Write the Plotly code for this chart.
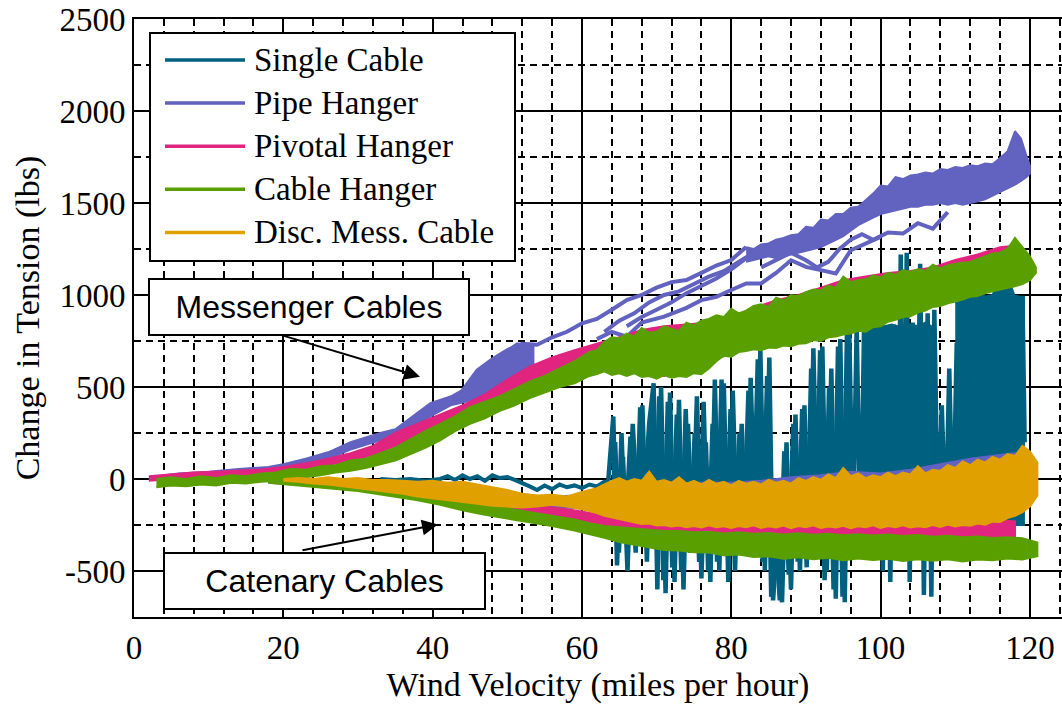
import plotly.graph_objects as go

names = ['Single Cable', 'Pipe Hanger', 'Pivotal Hanger', 'Cable Hanger', 'Disc. Mess. Cable']
colors = ['#00607f', '#6262c0', '#e0247f', '#5a9f00', '#e0a000']

x_ticks = [0, 20, 40, 60, 80, 100, 120]
y_ticks = [-500, 0, 500, 1000, 1500, 2000, 2500]
y_ticklabels = ['-500', '0', '500', '1000', '1500', '2000', '2500']

# Single Cable
single_low_x = [33, 35, 37, 39, 41, 42, 43, 44, 45, 46, 47, 48, 49, 50, 51, 52, 53, 54, 55, 56,
                57, 58, 59, 60, 61, 62, 63, 63.5]
single_low_y = [0, -5, 0, -10, 0, 15, -5, 20, 0, 15, -10, 20, 5, 10, -5, -20, -40, -60, -35, -55,
                -30, -45, -35, -50, -30, -40, -15, -20]
single_x = [63.5, 64.2, 64.7, 65.3, 65.8, 66.5, 67.2, 67.8, 68.4, 69.0, 69.6, 70.1, 70.6, 71.2,
            71.8, 72.4, 73.0, 73.6, 74.2, 74.8, 75.4, 76.0, 76.6, 77.2, 77.8, 78.4, 79.0, 79.6,
            80.2, 80.8, 81.4, 82.0, 82.6, 83.2, 83.9, 84.5, 85.1, 85.6, 86.2, 86.8, 87.4, 88.0,
            88.6, 89.2, 89.8, 90.4, 91.0, 91.6, 92.2, 92.8, 93.4, 94.0, 94.6, 95.2, 95.8, 96.3,
            96.8, 97.3, 97.8, 98.3, 98.8, 99.3, 99.8, 100.3, 100.8, 101.3, 101.8, 102.3, 102.7,
            103.1, 103.5, 103.9, 104.3, 104.8, 105.3, 105.8, 106.3, 106.8, 107.2, 107.7, 108.2,
            108.7, 109.2, 109.7, 110.2, 110.6, 111.0, 111.4, 111.8, 112.2, 112.6, 113.0, 113.4,
            113.8, 114.2, 114.6, 115.0, 115.4, 115.8, 116.2, 116.6, 117.0, 117.4, 117.8, 118.2,
            118.6, 119.0, 119.3]
single_y = [-20, 340, -470, 250, -300, 230, -400, 390, -100, 300, 520, -600, 500, -620,
            470, -560, 430, -600, 300, -350, 450, -540, 200, -560, 540, -500, 520, -560,
            480, -350, 300, -400, 550, -300, 700, -500, 660, -660, -300, -670, 200, -600,
            350, -500, 400, -430, 710, -350, 720, -500, 600, -650, 760, -670, 820, -300,
            830, -400, 840, -300, 850, -350, 840, -500, 830, -560, 840, -300, 1220,
            -400, 1230, -560, 850, -300, 1170, -630, 900, -640, 920, -300, 400,
            -300, 600, -300, 740, -250, 990, -300, 990, -250, 1060, -300, 1060,
            -250, 990, -300, 990, -250, 1100, -300, 1100, -250, 1000, -300, 1000,
            -250, 990, 200]
single2_x = [64.0, 64.45, 64.95, 65.5, 66.1, 66.8, 67.5, 68.1, 68.7, 69.3, 69.85, 70.35, 70.9, 71.5,
             72.1, 72.7, 73.3, 73.9, 74.5, 75.1, 75.7, 76.3, 76.9, 77.5, 78.1, 78.7, 79.3, 79.9,
             80.5, 81.1, 81.7, 82.3, 82.9, 83.55, 84.2, 84.8, 85.35, 85.9, 86.5, 87.1, 87.7, 88.3,
             88.9, 89.5, 90.1, 90.7, 91.3, 91.9, 92.5, 93.1, 93.7, 94.3, 94.9, 95.5, 96.0]
single2_y = [-300, 200, -400, 120, -500, 300, -200, 400, -450, 380, -300, 450, -550, 420,
             -480, 350, -500, 380, -400, 250, -450, 420, -500, 300, -450, 540, -420, 380,
             -500, 250, -300, 480, -380, 650, -450, 560, -640, -250, -660, 150, -520, 300,
             -450, 380, -480, 600, -400, 700, -550, 500, -600, 720, -640, 800, -300]
single_fill1_x = [97.5, 98.5, 99.5, 100.5, 101.5, 102.2, 104.0, 105.0, 106.0, 107.2]
single_fill1_top = [820, 840, 850, 830, 840, 830, 840, 830, 850, 820]
single_fill1_bot = [-250, -250, -260, -250, -260, -250, -250, -260, -250, -250]
single_fill2_x = [110.0, 111.0, 112.0, 113.0, 114.0, 115.0, 116.0, 117.0, 118.0, 119.2]
single_fill2_top = [960, 990, 990, 1050, 990, 1000, 1090, 1100, 990, 990]
single_fill2_bot = [-250, -260, -250, -260, -250, -260, -250, -260, -250, -250]

# Pipe Hanger
pipe_band1_x = [2, 6, 10, 14, 18, 20, 23, 26, 29, 31, 33, 35, 37, 39.7, 42.4, 44, 46, 48, 50, 51.3, 53.5]
pipe_band1_top = [10, 30, 40, 55, 65, 80, 110, 145, 200, 225, 250, 270, 330, 412, 448, 484, 593, 650, 700, 737, 719]
pipe_band1_bot = [-5, 10, 20, 30, 45, 55, 75, 110, 160, 185, 210, 235, 280, 340, 400, 415, 440, 480, 510, 540, 620]
pipe_band2_x = [82, 83, 84, 85, 86, 87, 88, 89, 90, 91, 92, 93, 94, 95, 96, 97, 98, 99, 100, 101, 102,
                103, 104, 105, 106, 107, 108, 109, 110, 111, 112, 113, 114, 115, 116, 117, 118, 118.8,
                119.5, 120]
pipe_band2_top = [1260, 1250, 1275, 1280, 1300, 1310, 1325, 1330, 1370, 1365, 1410, 1405, 1440, 1440,
                  1475, 1480, 1515, 1551, 1595, 1590, 1640, 1630, 1650, 1655, 1665, 1660, 1685, 1680,
                  1695, 1690, 1705, 1700, 1715, 1710, 1745, 1780, 1890, 1850, 1760, 1700]
pipe_band2_bot = [1180, 1190, 1200, 1210, 1200, 1210, 1220, 1230, 1240, 1250, 1260, 1280, 1300, 1320,
                  1350, 1380, 1400, 1420, 1440, 1450, 1460, 1470, 1480, 1480, 1490, 1490, 1500, 1490,
                  1500, 1490, 1500, 1510, 1520, 1540, 1560, 1580, 1600, 1620, 1640, 1660]
pipe_run1_x = [44, 46, 48, 50, 52, 54, 56, 58, 60, 62, 64, 66, 68, 70, 72, 74, 76, 78, 80, 82]
pipe_run1_y = [480, 590, 650, 700, 735, 730, 770, 800, 846, 870, 920, 972, 1000, 1040, 1070, 1081, 1120, 1160, 1190, 1261]
pipe_run2_x = [62, 64, 66, 68, 71, 74, 76, 78, 80, 82, 84, 86, 88, 90, 92, 94, 96, 98, 100]
pipe_run2_y = [760, 800, 773, 850, 882, 930, 972, 990, 1027, 1063, 1063, 1120, 1189, 1153, 1135, 1117, 1243, 1280, 1316]
pipe_run3_x = [63, 65, 67, 69, 71, 73, 75, 77, 79, 81, 83, 85]
pipe_run3_y = [800, 860, 900, 960, 1000, 1020, 1060, 1100, 1130, 1180, 1230, 1270]
pipe_run4_x = [84, 86, 88, 90, 91.5, 93, 94.5, 96, 97.5, 99, 101, 103, 105, 107, 109]
pipe_run4_y = [1150, 1190, 1230, 1189, 1150, 1180, 1250, 1300, 1330, 1300, 1340, 1334, 1390, 1361, 1450]
pipe_run5_x = [66, 68, 70, 72, 74, 76, 78, 80, 82]
pipe_run5_y = [830, 880, 920, 960, 1010, 1050, 1090, 1140, 1200]
pipe_low_x = [18, 25, 30, 35, 40, 45, 50, 55, 60, 65, 70, 75, 80, 84, 88, 92, 96, 100, 104, 108, 112, 116, 118, 119]
pipe_low_top = [0, -10, -20, -35, -45, -60, -80, -95, -90, -60, -40, -20, -20, -10, 10, 20, 40, 30, 50, 80, 110, 130, 140, 120]
pipe_low_bot = [-20, -40, -55, -70, -90, -110, -130, -150, -160, -170, -180, -190, -200, -200, -200, -200, -200,
                -200, -200, -200, -200, -200, -190, -180]

# Pivotal Hanger
pivot_up_x = [2, 5, 8, 11, 14, 17, 20, 23, 26, 29, 32, 35, 38, 41, 44, 47, 50, 53, 56, 59, 62, 65, 68,
              71, 74, 77, 80, 83, 86, 89, 92, 95, 98, 101, 104, 107, 110, 113, 116, 118.5]
pivot_up_top = [15, 25, 35, 40, 45, 52, 65, 85, 110, 140, 180, 250, 300, 350, 400, 460, 540, 610, 660, 700,
                735, 770, 810, 830, 840, 850, 880, 930, 970, 1000, 1040, 1080, 1100, 1120, 1130, 1150,
                1190, 1220, 1260, 1270]
pivot_up_bot = [-10, 0, 5, 10, 15, 20, 30, 50, 75, 100, 130, 180, 230, 280, 330, 390, 440, 490, 530, 570,
                600, 600, 580, 560, 600, 640, 680, 720, 740, 760, 790, 810, 830, 860, 900, 950, 1000,
                1050, 1100, 1150]
pivot_low_x = [18, 22, 26, 30, 34, 38, 42, 46, 50, 54, 58, 62, 66, 70, 75, 80, 85, 90, 95, 100, 105, 110, 115, 118]
pivot_low_top = [5, -5, -15, -25, -35, -50, -65, -90, -120, -145, -165, -190, -200, -210, -220, -220, -230,
                 -230, -220, -230, -220, -230, -220, -230]
pivot_low_bot = [-15, -25, -35, -50, -65, -85, -110, -135, -165, -185, -210, -240, -270, -300, -320, -330,
                 -335, -340, -340, -345, -350, -340, -330, -320]

# Cable Hanger
cable_up_x = [3, 5, 7, 9, 11, 13, 15, 17, 19, 21, 23, 25, 27, 29, 31, 33, 35, 37, 39, 41, 43, 45, 47, 49,
              51, 53, 55, 57, 59, 61,
              62, 63, 64, 65, 66, 67, 68, 69, 70, 71, 72, 73, 74, 75, 76, 77, 78, 79, 80, 81, 82, 83,
              84, 85, 86, 87, 88, 89, 90, 91, 92, 93, 94, 95, 96, 97, 98, 99, 100, 101, 102, 103, 104,
              105, 106, 107, 108, 109, 110, 111, 112, 113, 114, 115, 116, 117, 118, 119, 120, 120.8]
cable_up_top = [0, 10, 0, 15, 5, 20, 15, 30, 35, 55, 50, 70, 75, 100, 110, 140, 170, 215, 260, 300, 340,
                390, 420, 450, 490, 530, 560, 600, 640, 690,
                700, 745, 770, 765, 790, 775, 820, 795, 800, 830, 815, 805, 850, 835, 860, 870, 890,
                880, 925, 900, 915, 940, 950, 935, 985, 970, 1000, 995, 1015, 1030, 1025, 1050, 1040,
                1100, 1070, 1080, 1085, 1105, 1095, 1120, 1110, 1135, 1125, 1140, 1130, 1165, 1145,
                1160, 1170, 1175, 1180, 1195, 1210, 1225, 1230, 1250, 1310, 1260, 1210, 1150]
cable_up_bot = [-45, -35, -40, -30, -35, -20, -25, -15, -10, -5, 10, 20, 35, 45, 60, 80, 100, 135, 170,
                210, 260, 300, 330, 370, 400, 440, 470, 500, 520, 560,
                570, 585, 565, 575, 560, 575, 555, 560, 545, 565, 550, 560, 555, 575, 570, 600, 640,
                670, 665, 690, 695, 705, 700, 715, 712, 725, 722, 735, 738, 755, 750, 770, 775, 785,
                790, 805, 800, 825, 830, 855, 865, 880, 885, 905, 915, 935, 940, 955, 965, 975, 990,
                995, 1010, 1020, 1028, 1040, 1048, 1060, 1080, 1120]
cable_low_x = [18, 22, 26, 30, 34, 38, 41, 44, 47, 50, 53, 56, 59,
               61, 63, 65, 67, 69, 71, 73, 75, 77, 79, 81, 83, 85, 87, 89, 91, 93, 95, 97, 99, 101,
               103, 105, 107, 109, 111, 113, 115, 117, 119, 121]
cable_low_top = [5, -10, -25, -40, -55, -75, -95, -115, -140, -160, -180, -200, -220,
                 -240, -255, -262, -270, -278, -283, -282, -290, -287, -296, -290, -298, -293, -302,
                 -295, -303, -298, -306, -300, -307, -302, -310, -305, -314, -308, -316, -312, -320,
                 -316, -322, -345]
cable_low_bot = [-20, -35, -50, -65, -90, -115, -140, -170, -195, -215, -235, -255, -280,
                 -300, -320, -342, -358, -372, -386, -388, -398, -400, -414, -410, -424, -420, -434,
                 -425, -436, -428, -442, -432, -440, -434, -446, -436, -444, -436, -448, -438, -442,
                 -432, -438, -420]

# Disc. Mess. Cable
disc_x = [20, 22, 24, 26, 28, 30, 32, 34, 36, 38, 40, 42, 44, 46, 48, 50, 52, 54, 56, 58, 60, 62,
          63, 64, 65, 66, 67, 68, 69, 70, 71, 72, 73, 74, 75, 76, 77, 78, 79, 80, 81, 82, 83, 84,
          85, 86, 87, 88, 89, 90, 91, 92, 93, 94, 95, 96, 97, 98, 99, 100, 101, 102, 103, 104,
          105, 106, 107, 108, 109, 110, 111, 112, 113, 114, 115, 116, 117, 118, 119, 120, 121]
disc_top = [0, 5, 0, 10, 0, 5, -5, -5, -10, -15, -10, -20, -15, -30, -45, -60, -80, -90, -85, -95,
            -70, -50,
            -30, -10, 5, -15, 0, -10, 40, -15, -5, -20, 10, -25, -10, -30, -5, -25, -15, -35, -10,
            -25, -15, -30, -5, -20, -10, -25, 5, -10, 10, -5, 25, 5, 60, 15, 30, 5, 20, 10, 35, 15,
            35, 25, 70, 30, 50, 45, 75, 60, 95, 75, 105, 90, 120, 105, 135, 125, 180, 150, 90]
disc_bot = [-10, -15, -25, -30, -40, -50, -60, -70, -80, -95, -105, -115, -125, -135, -145, -150,
            -155, -150, -140, -150, -165, -185,
            -200, -210, -218, -228, -236, -244, -242, -252, -250, -258, -253, -262, -256, -263,
            -252, -262, -257, -266, -256, -262, -252, -266, -257, -263, -253, -267, -256, -262,
            -252, -266, -258, -263, -254, -267, -257, -262, -252, -266, -256, -262, -252, -264,
            -257, -262, -250, -260, -247, -258, -250, -254, -242, -248, -232, -234, -212, -200,
            -180, -150, -90]


def area(xs, top, bot, color):
    return go.Scatter(x=xs + xs[::-1], y=top + bot[::-1], mode='lines', fill='toself',
                      fillcolor=color, line=dict(color=color, width=2),
                      hoverinfo='skip', showlegend=False)


def run(xs, ys, color, width=4):
    return go.Scatter(x=xs, y=ys, mode='lines', line=dict(color=color, width=width),
                      hoverinfo='skip', showlegend=False)


teal, purple, pink, green, orange = colors

data = [
    run(single_low_x, single_low_y, teal, 4),
    run(single_x, single_y, teal, 4.5),
    run(single2_x, single2_y, teal, 4.5),
    area(single_fill1_x, single_fill1_top, single_fill1_bot, teal),
    area(single_fill2_x, single_fill2_top, single_fill2_bot, teal),
    area(pipe_band1_x, pipe_band1_top, pipe_band1_bot, purple),
    area(pipe_band2_x, pipe_band2_top, pipe_band2_bot, purple),
    run(pipe_run1_x, pipe_run1_y, purple),
    run(pipe_run2_x, pipe_run2_y, purple),
    run(pipe_run3_x, pipe_run3_y, purple),
    run(pipe_run4_x, pipe_run4_y, purple),
    run(pipe_run5_x, pipe_run5_y, purple),
    area(pipe_low_x, pipe_low_top, pipe_low_bot, purple),
    area(pivot_up_x, pivot_up_top, pivot_up_bot, pink),
    area(pivot_low_x, pivot_low_top, pivot_low_bot, pink),
    area(cable_up_x, cable_up_top, cable_up_bot, green),
    area(cable_low_x, cable_low_top, cable_low_bot, green),
    area(disc_x, disc_top, disc_bot, orange),
]


# plot area in pixels: left 134, right 1062, top 19, bottom 617
def xp(p):
    return (p - 134) / 928.0


def yp(p):
    return (617 - p) / 598.0


serif = 'Liberation Serif, Times New Roman, serif'

shapes = [dict(type='rect', xref='paper', yref='paper', x0=xp(150), x1=xp(515), y0=yp(261), y1=yp(33),
               line=dict(color='black', width=2), fillcolor='white', layer='above')]
annotations = []
for i, (name, color) in enumerate(zip(names, colors)):
    row = 60 + 43.1 * i
    shapes.append(dict(type='line', xref='paper', yref='paper', x0=xp(165), x1=xp(245),
                       y0=yp(row), y1=yp(row), line=dict(color=color, width=3.5), layer='above'))
    annotations.append(dict(xref='paper', yref='paper', x=xp(252), y=yp(row), text=name,
                            showarrow=False, xanchor='left', yanchor='middle',
                            font=dict(family=serif, size=33, color='black')))

box_font = dict(family='Liberation Sans, Arial', size=32, color='black')
annotations += [
    dict(xref='paper', yref='paper', x=xp(309), y=yp(307), text='Messenger Cables', showarrow=False,
         width=318, height=54, borderpad=0, bordercolor='black', borderwidth=2, bgcolor='white',
         font=box_font, xanchor='center', yanchor='middle'),
    dict(xref='paper', yref='paper', x=xp(324), y=yp(580.5), text='Catenary Cables', showarrow=False,
         width=319, height=54, borderpad=0, bordercolor='black', borderwidth=2, bgcolor='white',
         font=box_font, xanchor='center', yanchor='middle'),
    dict(xref='paper', yref='paper', x=xp(420), y=yp(376.7), text='', showarrow=True,
         ax=-140, ay=-42, arrowhead=2, arrowsize=1.6, arrowwidth=2, arrowcolor='black', standoff=0),
    dict(xref='paper', yref='paper', x=xp(438), y=yp(524.5), text='', showarrow=True,
         ax=-137, ay=26, arrowhead=2, arrowsize=1.6, arrowwidth=2, arrowcolor='black', standoff=0),
]

layout = go.Layout(
    width=1062,
    height=705,
    margin=dict(l=134, r=0, t=19, b=88, pad=0),
    paper_bgcolor='white',
    plot_bgcolor='white',
    font=dict(family=serif, size=33, color='black'),
    showlegend=False,
    xaxis=dict(
        range=[0, 124.3], tick0=0, dtick=20, ticks='', zeroline=False,
        showgrid=True, gridcolor='black', gridwidth=2,
        minor=dict(tickmode='linear', tick0=0, dtick=4, showgrid=True, gridcolor='black',
                   gridwidth=1.5, griddash='7px,5px'),
        showline=True, linecolor='black', linewidth=2, mirror=True,
        title=dict(text='Wind Velocity (miles per hour)', standoff=6, font=dict(size=34)),
        automargin=False,
    ),
    yaxis=dict(
        range=[-750, 2500], tickmode='array', tickvals=y_ticks, ticktext=y_ticklabels,
        ticks='', zeroline=False,
        showgrid=True, gridcolor='black', gridwidth=2,
        minor=dict(tickmode='linear', tick0=0, dtick=250, showgrid=True, gridcolor='black',
                   gridwidth=1.5, griddash='7px,5px'),
        showline=True, linecolor='black', linewidth=2, mirror=False,
        title=dict(text='Change in Tension (lbs)', standoff=10, font=dict(size=34)),
        automargin=False,
    ),
    shapes=shapes,
    annotations=annotations,
)

fig = go.Figure(data=data, layout=layout)
fig.write_html("out.html", config={'displayModeBar': False},
               post_script="document.body.style.margin='0';document.body.style.padding='0';")
